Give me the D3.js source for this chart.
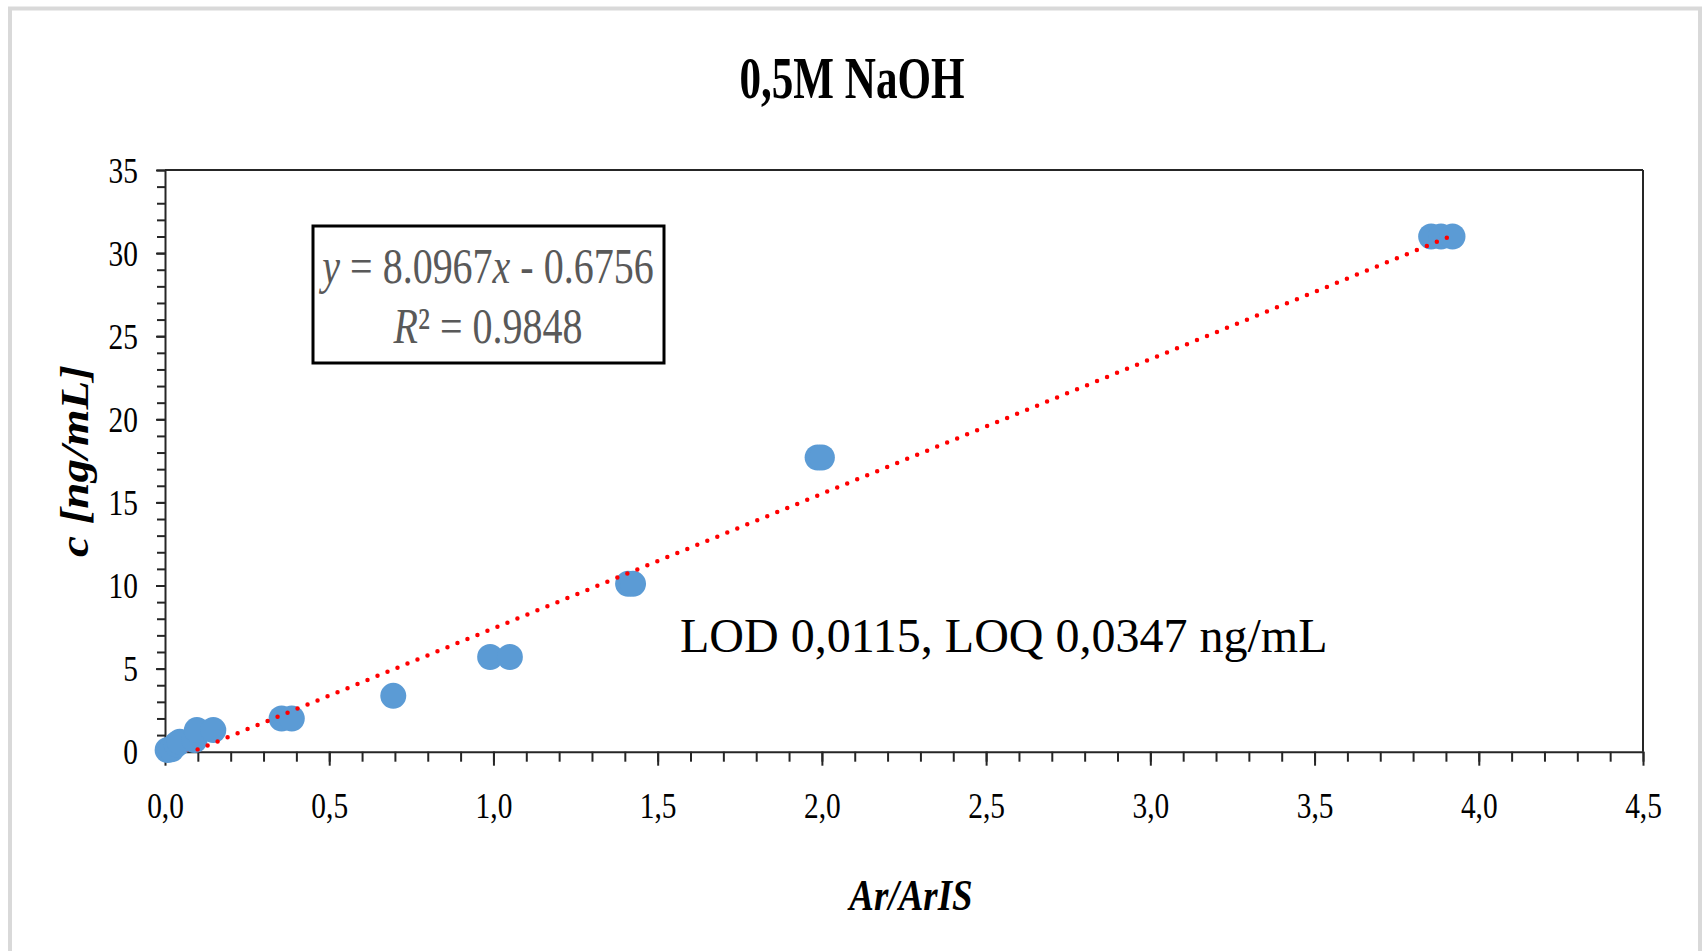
<!DOCTYPE html>
<html>
<head>
<meta charset="utf-8">
<script src="https://cdn.jsdelivr.net/npm/d3@7"></script>
<style>
  html, body { margin: 0; padding: 0; background: #fff; }
  svg { display: block; }
  text { font-family: "Liberation Serif", "Times New Roman", serif; }
</style>
</head>
<body>
<script>
// chart data
const xValues = [0.008, 0.02, 0.035, 0.045, 0.09, 0.097, 0.147, 0.355, 0.386, 0.695, 0.99, 1.05, 1.41, 1.425, 1.987, 2.0, 3.855, 3.885, 3.92];
const yValues = [0.1, 0.15, 0.45, 0.6, 0.7, 1.3, 1.3, 2.0, 2.0, 3.36, 5.7, 5.7, 10.1, 10.1, 17.7, 17.7, 31.0, 31.0, 31.0];
// ----------
const xTickValues = [0, 0.5, 1, 1.5, 2, 2.5, 3, 3.5, 4, 4.5];
const xTickLabels = ["0,0", "0,5", "1,0", "1,5", "2,0", "2,5", "3,0", "3,5", "4,0", "4,5"];
const yTickValues = [0, 5, 10, 15, 20, 25, 30, 35];
const yTickLabels = ["0", "5", "10", "15", "20", "25", "30", "35"];
// ----------
const trendSlope = 8.0967;
const trendIntercept = -0.6756;
const trendR2 = "0.9848";
// ----------
const titleText = "0,5M NaOH";
const xLabelText = "Ar/ArIS";
const yLabelText = "c [ng/mL]";
const noteText = "LOD 0,0115, LOQ 0,0347 ng/mL";
// ----------

// layout
const w = 1702;
const h = 951;
const p = { t: 170, r: 1643, b: 751.7, l: 165 };
const squeeze = 0.84; // the chart text looks condensed horizontally
const axisCol = "#262626";
const dotCol = "#5b9bd5";
const trendCol = "#ff0000";
// ----------

const svg = d3
  .select("body")
  .append("svg")
  .attr("width", w)
  .attr("height", h);

// outer frame
svg
  .append("rect")
  .attr("x", 10)
  .attr("y", 8.5)
  .attr("width", 1690)
  .attr("height", 960)
  .attr("fill", "#fff")
  .attr("stroke", "#d9d9d9")
  .attr("stroke-width", 4);
// ----------

// scales
const x = d3.scaleLinear().domain([0, 4.5]).range([p.l, p.r]);
const y = d3.scaleLinear().domain([0, 35]).range([p.b, p.t]);
// ----------

// title
svg
  .append("text")
  .text(titleText)
  .attr("transform", `translate(852, 98) scale(0.77, 1.04)`)
  .attr("text-anchor", "middle")
  .attr("font-size", 56)
  .attr("font-weight", "bold")
  .attr("fill", "#000");
// ----------

// plot border (top / right)
svg
  .append("line")
  .attr("x1", p.l)
  .attr("x2", p.r)
  .attr("y1", p.t)
  .attr("y2", p.t)
  .attr("stroke", axisCol)
  .attr("stroke-width", 2);
svg
  .append("line")
  .attr("x1", p.r)
  .attr("x2", p.r)
  .attr("y1", p.t)
  .attr("y2", p.b)
  .attr("stroke", axisCol)
  .attr("stroke-width", 2);
// ----------

// x axis: minor then major ticks
svg
  .append("g")
  .attr("transform", `translate(0, ${p.b})`)
  .call(
    d3.axisBottom(x)
      .tickValues(d3.range(0, 46).map((i) => i / 10))
      .tickSize(10)
      .tickSizeOuter(0)
      .tickFormat("")
  )
  .call((g) => g.select(".domain").attr("stroke", axisCol).attr("stroke-width", 2))
  .call((g) => g.selectAll(".tick line").attr("stroke", axisCol).attr("stroke-width", 2));

svg
  .append("g")
  .attr("transform", `translate(0, ${p.b})`)
  .call(
    d3.axisBottom(x)
      .tickValues(xTickValues)
      .tickSize(14)
      .tickSizeOuter(0)
      .tickFormat((d, i) => xTickLabels[i])
  )
  .call((g) => g.select(".domain").remove())
  .call((g) => g.selectAll(".tick line").attr("stroke", axisCol).attr("stroke-width", 2))
  .call((g) =>
    g
      .selectAll(".tick text")
      .attr("y", null)
      .attr("dy", null)
      .attr("transform", `translate(0, 66) scale(${squeeze}, 1)`)
      .attr("font-size", 35)
      .attr("font-family", "Liberation Serif, Times New Roman, serif")
      .attr("fill", "#000")
  );
// ----------

// y axis: minor then major ticks
svg
  .append("g")
  .attr("transform", `translate(${p.l}, 0)`)
  .call(
    d3.axisLeft(y)
      .tickValues(d3.range(0, 36))
      .tickSize(8)
      .tickSizeOuter(0)
      .tickFormat("")
  )
  .call((g) => g.select(".domain").attr("stroke", axisCol).attr("stroke-width", 2))
  .call((g) => g.selectAll(".tick line").attr("stroke", axisCol).attr("stroke-width", 2));

svg
  .append("g")
  .attr("transform", `translate(${p.l}, 0)`)
  .call(
    d3.axisLeft(y)
      .tickValues(yTickValues)
      .tickSize(9)
      .tickSizeOuter(0)
      .tickFormat((d, i) => yTickLabels[i])
  )
  .call((g) => g.select(".domain").remove())
  .call((g) => g.selectAll(".tick line").attr("stroke", axisCol).attr("stroke-width", 2))
  .call((g) =>
    g
      .selectAll(".tick text")
      .attr("x", null)
      .attr("dy", null)
      .attr("transform", `translate(-27, 12) scale(${squeeze}, 1)`)
      .attr("font-size", 35)
      .attr("font-family", "Liberation Serif, Times New Roman, serif")
      .attr("fill", "#000")
  );
// ----------

// axis titles
svg
  .append("text")
  .text(xLabelText)
  .attr("transform", `translate(911, 910) scale(${squeeze}, 1)`)
  .attr("text-anchor", "middle")
  .attr("font-size", 44)
  .attr("font-weight", "bold")
  .attr("font-style", "italic")
  .attr("fill", "#000");

svg
  .append("text")
  .text(yLabelText)
  .attr("transform", `translate(88, 461) scale(${squeeze}, 1) rotate(-90)`)
  .attr("text-anchor", "middle")
  .attr("font-size", 47)
  .attr("font-weight", "bold")
  .attr("font-style", "italic")
  .attr("fill", "#000");
// ----------

// clip for the trendline
svg
  .append("clipPath")
  .attr("id", "plot-clip")
  .append("rect")
  .attr("x", p.l)
  .attr("y", p.t)
  .attr("width", p.r - p.l)
  .attr("height", p.b - p.t);
// ----------

// data points
const points = xValues.map((d, i) => ({ x: d, y: yValues[i] }));

svg
  .append("g")
  .attr("id", "points")
  .selectAll("circle")
  .data(points)
  .enter()
  .append("circle")
  .attr("cx", (d) => x(d.x))
  .attr("cy", (d) => y(d.y))
  .attr("r", 13)
  .attr("fill", dotCol);
// ----------

// linear trendline, over the data range
const trendExt = d3.extent(xValues);
const trendPts = trendExt.map((d) => ({ x: d, y: trendSlope * d + trendIntercept }));
const trendLine = d3
  .line()
  .x((d) => x(d.x))
  .y((d) => y(d.y));

svg
  .append("path")
  .datum(trendPts)
  .attr("d", trendLine)
  .attr("clip-path", "url(#plot-clip)")
  .attr("fill", "none")
  .attr("stroke", trendCol)
  .attr("stroke-width", 4.5)
  .attr("stroke-linecap", "round")
  .attr("stroke-dasharray", "0 10.8");
// ----------

// equation box
svg
  .append("rect")
  .attr("x", 313)
  .attr("y", 226)
  .attr("width", 351)
  .attr("height", 137)
  .attr("fill", "#fff")
  .attr("stroke", "#000")
  .attr("stroke-width", 3);

const eq1 = svg
  .append("text")
  .attr("transform", `translate(488, 283) scale(0.8, 1)`)
  .attr("text-anchor", "middle")
  .attr("font-size", 50)
  .attr("fill", "#595959");
eq1.append("tspan").attr("font-style", "italic").text("y");
eq1.append("tspan").text(` = ${trendSlope}`);
eq1.append("tspan").attr("font-style", "italic").text("x");
eq1.append("tspan").text(` - ${Math.abs(trendIntercept)}`);

const eq2 = svg
  .append("text")
  .attr("transform", `translate(488, 343) scale(0.8, 1)`)
  .attr("text-anchor", "middle")
  .attr("font-size", 50)
  .attr("fill", "#595959");
eq2.append("tspan").attr("font-style", "italic").text("R");
eq2.append("tspan").text(`\u00B2 = ${trendR2}`);
// ----------

// LOD / LOQ note (not condensed)
svg
  .append("text")
  .text(noteText)
  .attr("x", 680)
  .attr("y", 652)
  .attr("font-size", 48)
  .attr("fill", "#000");
// ----------
</script>
</body>
</html>
